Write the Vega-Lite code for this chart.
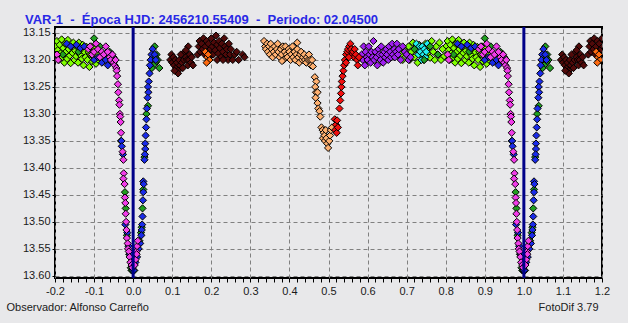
{
"$schema": "https://vega.github.io/schema/vega-lite/v6.json",
"autosize": "none",
"width": 547, "height": 251,
"padding": {"left": 55, "top": 27, "right": 26, "bottom": 45},
"background": "#E8E8EA",
"config": {"view": {"stroke": "#000000", "strokeWidth": 2, "fill": "#E8E8EA"}, "font": "Liberation Sans"},
"title": {"text": "VAR-1 \u00a0-\u00a0 Época HJD: 2456210.55409 \u00a0-\u00a0 Periodo: 02.04500", "anchor": "start", "frame": "group", "dx": -30, "dy": 16, "offset": 5, "baseline": "alphabetic", "font": "Liberation Sans", "fontSize": 13, "fontWeight": "bold", "color": "#2828E6"},
"layer": [
{"data": {"values": [
{"x":-0.199,"y":13.175,"s":"L"},{"x":-0.197,"y":13.19,"s":"L"},{"x":-0.195,"y":13.165,"s":"L"},{"x":-0.193,"y":13.182,"s":"L"},{"x":-0.19,"y":13.2,"s":"L"},{"x":-0.188,"y":13.172,"s":"L"},{"x":-0.186,"y":13.188,"s":"L"},{"x":-0.183,"y":13.162,"s":"L"},{"x":-0.181,"y":13.195,"s":"L"},{"x":-0.179,"y":13.178,"s":"L"},{"x":-0.176,"y":13.205,"s":"L"},{"x":-0.174,"y":13.17,"s":"L"},{"x":-0.172,"y":13.185,"s":"L"},{"x":-0.169,"y":13.198,"s":"L"},{"x":-0.167,"y":13.163,"s":"L"},{"x":-0.165,"y":13.18,"s":"L"},{"x":-0.162,"y":13.192,"s":"L"},{"x":-0.16,"y":13.206,"s":"L"},{"x":-0.158,"y":13.174,"s":"L"},{"x":-0.155,"y":13.187,"s":"L"},{"x":-0.153,"y":13.168,"s":"L"},{"x":-0.15,"y":13.2,"s":"L"},{"x":-0.148,"y":13.183,"s":"L"},{"x":-0.146,"y":13.193,"s":"L"},{"x":-0.143,"y":13.176,"s":"L"},{"x":-0.141,"y":13.205,"s":"L"},{"x":-0.139,"y":13.168,"s":"L"},{"x":-0.136,"y":13.19,"s":"L"},{"x":-0.134,"y":13.182,"s":"L"},{"x":-0.131,"y":13.198,"s":"L"},{"x":-0.129,"y":13.172,"s":"L"},{"x":-0.127,"y":13.21,"s":"L"},{"x":-0.124,"y":13.186,"s":"L"},{"x":-0.122,"y":13.195,"s":"L"},{"x":-0.119,"y":13.176,"s":"L"},{"x":-0.117,"y":13.2,"s":"L"},{"x":-0.114,"y":13.185,"s":"L"},{"x":-0.112,"y":13.213,"s":"L"},{"x":-0.109,"y":13.19,"s":"L"},{"x":-0.107,"y":13.175,"s":"L"},{"x":-0.104,"y":13.203,"s":"L"},{"x":-0.101,"y":13.195,"s":"L"},{"x":-0.098,"y":13.18,"s":"L"},{"x":-0.095,"y":13.207,"s":"L"},{"x":-0.092,"y":13.19,"s":"L"},{"x":-0.089,"y":13.2,"s":"L"},
{"x":0.801,"y":13.175,"s":"L"},{"x":0.803,"y":13.19,"s":"L"},{"x":0.805,"y":13.165,"s":"L"},{"x":0.807,"y":13.182,"s":"L"},{"x":0.81,"y":13.2,"s":"L"},{"x":0.812,"y":13.172,"s":"L"},{"x":0.814,"y":13.188,"s":"L"},{"x":0.817,"y":13.162,"s":"L"},{"x":0.819,"y":13.195,"s":"L"},{"x":0.821,"y":13.178,"s":"L"},{"x":0.824,"y":13.205,"s":"L"},{"x":0.826,"y":13.17,"s":"L"},{"x":0.828,"y":13.185,"s":"L"},{"x":0.831,"y":13.198,"s":"L"},{"x":0.833,"y":13.163,"s":"L"},{"x":0.835,"y":13.18,"s":"L"},{"x":0.838,"y":13.192,"s":"L"},{"x":0.84,"y":13.206,"s":"L"},{"x":0.842,"y":13.174,"s":"L"},{"x":0.845,"y":13.187,"s":"L"},{"x":0.847,"y":13.168,"s":"L"},{"x":0.85,"y":13.2,"s":"L"},{"x":0.852,"y":13.183,"s":"L"},{"x":0.854,"y":13.193,"s":"L"},{"x":0.857,"y":13.176,"s":"L"},{"x":0.859,"y":13.205,"s":"L"},{"x":0.861,"y":13.168,"s":"L"},{"x":0.864,"y":13.19,"s":"L"},{"x":0.866,"y":13.182,"s":"L"},{"x":0.869,"y":13.198,"s":"L"},{"x":0.871,"y":13.172,"s":"L"},{"x":0.873,"y":13.21,"s":"L"},{"x":0.876,"y":13.186,"s":"L"},{"x":0.878,"y":13.195,"s":"L"},{"x":0.881,"y":13.176,"s":"L"},{"x":0.883,"y":13.2,"s":"L"},{"x":0.886,"y":13.185,"s":"L"},{"x":0.888,"y":13.213,"s":"L"},{"x":0.891,"y":13.19,"s":"L"},{"x":0.893,"y":13.175,"s":"L"},{"x":0.896,"y":13.203,"s":"L"},{"x":0.899,"y":13.195,"s":"L"},{"x":0.902,"y":13.18,"s":"L"},{"x":0.905,"y":13.207,"s":"L"},{"x":0.908,"y":13.19,"s":"L"},{"x":0.911,"y":13.2,"s":"L"},
{"x":0.685,"y":13.19,"s":"L"},{"x":0.69,"y":13.2,"s":"L"},{"x":0.695,"y":13.182,"s":"L"},{"x":0.7,"y":13.19,"s":"L"},{"x":0.705,"y":13.175,"s":"L"},{"x":0.708,"y":13.2,"s":"L"},{"x":0.712,"y":13.185,"s":"L"},{"x":0.716,"y":13.168,"s":"L"},{"x":0.72,"y":13.195,"s":"L"},{"x":0.724,"y":13.18,"s":"L"},{"x":0.728,"y":13.205,"s":"L"},{"x":0.732,"y":13.172,"s":"L"},{"x":0.736,"y":13.19,"s":"L"},{"x":0.74,"y":13.183,"s":"L"},{"x":0.744,"y":13.2,"s":"L"},{"x":0.748,"y":13.17,"s":"L"},{"x":0.752,"y":13.188,"s":"L"},{"x":0.756,"y":13.178,"s":"L"},{"x":0.76,"y":13.196,"s":"L"},{"x":0.764,"y":13.165,"s":"L"},{"x":0.768,"y":13.185,"s":"L"},{"x":0.772,"y":13.2,"s":"L"},{"x":0.776,"y":13.175,"s":"L"},{"x":0.78,"y":13.19,"s":"L"},{"x":0.784,"y":13.168,"s":"L"},{"x":0.788,"y":13.2,"s":"L"},{"x":0.792,"y":13.18,"s":"L"},{"x":0.796,"y":13.193,"s":"L"},
{"x":0.725,"y":13.17,"s":"C"},{"x":0.728,"y":13.18,"s":"C"},{"x":0.73,"y":13.19,"s":"C"},{"x":0.733,"y":13.175,"s":"C"},{"x":0.735,"y":13.185,"s":"C"},{"x":0.738,"y":13.2,"s":"C"},{"x":0.74,"y":13.175,"s":"C"},{"x":0.743,"y":13.19,"s":"C"},{"x":0.745,"y":13.18,"s":"C"},{"x":0.748,"y":13.195,"s":"C"},{"x":0.75,"y":13.185,"s":"C"},{"x":0.753,"y":13.17,"s":"C"},
{"x":0.585,"y":13.19,"s":"V"},{"x":0.588,"y":13.2,"s":"V"},{"x":0.59,"y":13.175,"s":"V"},{"x":0.593,"y":13.21,"s":"V"},{"x":0.595,"y":13.185,"s":"V"},{"x":0.598,"y":13.195,"s":"V"},{"x":0.6,"y":13.2,"s":"V"},{"x":0.603,"y":13.175,"s":"V"},{"x":0.605,"y":13.19,"s":"V"},{"x":0.608,"y":13.205,"s":"V"},{"x":0.61,"y":13.185,"s":"V"},{"x":0.613,"y":13.195,"s":"V"},{"x":0.615,"y":13.165,"s":"V"},{"x":0.617,"y":13.2,"s":"V"},{"x":0.62,"y":13.185,"s":"V"},{"x":0.623,"y":13.195,"s":"V"},{"x":0.625,"y":13.21,"s":"V"},{"x":0.628,"y":13.18,"s":"V"},{"x":0.63,"y":13.19,"s":"V"},{"x":0.633,"y":13.2,"s":"V"},{"x":0.635,"y":13.175,"s":"V"},{"x":0.638,"y":13.19,"s":"V"},{"x":0.64,"y":13.205,"s":"V"},{"x":0.643,"y":13.185,"s":"V"},{"x":0.645,"y":13.195,"s":"V"},{"x":0.648,"y":13.18,"s":"V"},{"x":0.65,"y":13.19,"s":"V"},{"x":0.653,"y":13.2,"s":"V"},{"x":0.655,"y":13.175,"s":"V"},{"x":0.658,"y":13.185,"s":"V"},{"x":0.66,"y":13.195,"s":"V"},{"x":0.663,"y":13.17,"s":"V"},{"x":0.665,"y":13.19,"s":"V"},{"x":0.668,"y":13.18,"s":"V"},{"x":0.67,"y":13.195,"s":"V"},{"x":0.673,"y":13.185,"s":"V"},{"x":0.675,"y":13.17,"s":"V"},{"x":0.678,"y":13.19,"s":"V"},{"x":0.68,"y":13.18,"s":"V"},{"x":0.685,"y":13.2,"s":"V"},{"x":0.69,"y":13.175,"s":"V"},{"x":0.695,"y":13.185,"s":"V"},{"x":0.7,"y":13.19,"s":"V"},{"x":0.705,"y":13.2,"s":"V"},{"x":0.71,"y":13.195,"s":"V"},
{"x":0.095,"y":13.2,"s":"D"},{"x":0.098,"y":13.19,"s":"D"},{"x":0.1,"y":13.205,"s":"D"},{"x":0.103,"y":13.195,"s":"D"},{"x":0.105,"y":13.21,"s":"D"},{"x":0.108,"y":13.2,"s":"D"},{"x":0.11,"y":13.215,"s":"D"},{"x":0.112,"y":13.205,"s":"D"},{"x":0.115,"y":13.22,"s":"D"},{"x":0.118,"y":13.2,"s":"D"},{"x":0.12,"y":13.21,"s":"D"},{"x":0.122,"y":13.19,"s":"D"},{"x":0.125,"y":13.205,"s":"D"},{"x":0.127,"y":13.215,"s":"D"},{"x":0.13,"y":13.2,"s":"D"},{"x":0.133,"y":13.185,"s":"D"},{"x":0.135,"y":13.195,"s":"D"},{"x":0.138,"y":13.2,"s":"D"},{"x":0.14,"y":13.21,"s":"D"},{"x":0.143,"y":13.2,"s":"D"},{"x":0.145,"y":13.19,"s":"D"},{"x":0.148,"y":13.205,"s":"D"},{"x":0.15,"y":13.195,"s":"D"},{"x":0.153,"y":13.21,"s":"D"},{"x":0.115,"y":13.225,"s":"D"},{"x":0.106,"y":13.22,"s":"D"},{"x":0.141,"y":13.175,"s":"D"},{"x":0.135,"y":13.182,"s":"D"},
{"x":1.095,"y":13.2,"s":"D"},{"x":1.098,"y":13.19,"s":"D"},{"x":1.1,"y":13.205,"s":"D"},{"x":1.103,"y":13.195,"s":"D"},{"x":1.105,"y":13.21,"s":"D"},{"x":1.108,"y":13.2,"s":"D"},{"x":1.11,"y":13.215,"s":"D"},{"x":1.112,"y":13.205,"s":"D"},{"x":1.115,"y":13.22,"s":"D"},{"x":1.118,"y":13.2,"s":"D"},{"x":1.12,"y":13.21,"s":"D"},{"x":1.122,"y":13.19,"s":"D"},{"x":1.125,"y":13.205,"s":"D"},{"x":1.127,"y":13.215,"s":"D"},{"x":1.13,"y":13.2,"s":"D"},{"x":1.133,"y":13.185,"s":"D"},{"x":1.135,"y":13.195,"s":"D"},{"x":1.138,"y":13.2,"s":"D"},{"x":1.14,"y":13.21,"s":"D"},{"x":1.143,"y":13.2,"s":"D"},{"x":1.145,"y":13.19,"s":"D"},{"x":1.148,"y":13.205,"s":"D"},{"x":1.15,"y":13.195,"s":"D"},{"x":1.153,"y":13.21,"s":"D"},{"x":1.115,"y":13.225,"s":"D"},{"x":1.106,"y":13.22,"s":"D"},{"x":1.141,"y":13.175,"s":"D"},{"x":1.135,"y":13.182,"s":"D"},
{"x":0.165,"y":13.19,"s":"D"},{"x":0.168,"y":13.175,"s":"D"},{"x":0.17,"y":13.165,"s":"D"},{"x":0.172,"y":13.185,"s":"D"},{"x":0.175,"y":13.17,"s":"D"},{"x":0.178,"y":13.18,"s":"D"},{"x":0.18,"y":13.16,"s":"D"},{"x":0.183,"y":13.19,"s":"D"},{"x":0.185,"y":13.175,"s":"D"},{"x":0.188,"y":13.165,"s":"D"},{"x":0.19,"y":13.185,"s":"D"},{"x":0.193,"y":13.17,"s":"D"},{"x":0.195,"y":13.195,"s":"D"},{"x":0.198,"y":13.18,"s":"D"},{"x":0.2,"y":13.16,"s":"D"},{"x":0.203,"y":13.175,"s":"D"},{"x":0.205,"y":13.19,"s":"D"},{"x":0.207,"y":13.168,"s":"D"},{"x":0.21,"y":13.182,"s":"D"},{"x":0.212,"y":13.155,"s":"D"},{"x":0.215,"y":13.172,"s":"D"},{"x":0.218,"y":13.188,"s":"D"},{"x":0.22,"y":13.165,"s":"D"},{"x":0.222,"y":13.178,"s":"D"},{"x":0.225,"y":13.195,"s":"D"},{"x":0.227,"y":13.17,"s":"D"},{"x":0.23,"y":13.185,"s":"D"},{"x":0.233,"y":13.16,"s":"D"},{"x":0.235,"y":13.175,"s":"D"},{"x":0.238,"y":13.19,"s":"D"},{"x":0.24,"y":13.18,"s":"D"},{"x":0.243,"y":13.2,"s":"D"},{"x":0.245,"y":13.17,"s":"D"},{"x":0.248,"y":13.19,"s":"D"},{"x":0.25,"y":13.18,"s":"D"},{"x":0.255,"y":13.2,"s":"D"},{"x":0.26,"y":13.19,"s":"D"},{"x":0.265,"y":13.185,"s":"D"},{"x":0.27,"y":13.2,"s":"D"},{"x":0.28,"y":13.19,"s":"D"},{"x":0.285,"y":13.195,"s":"D"},{"x":0.195,"y":13.2,"s":"D"},{"x":0.215,"y":13.2,"s":"D"},{"x":0.23,"y":13.2,"s":"D"},
{"x":1.165,"y":13.19,"s":"D"},{"x":1.168,"y":13.175,"s":"D"},{"x":1.17,"y":13.165,"s":"D"},{"x":1.172,"y":13.185,"s":"D"},{"x":1.175,"y":13.17,"s":"D"},{"x":1.178,"y":13.18,"s":"D"},{"x":1.18,"y":13.16,"s":"D"},{"x":1.183,"y":13.19,"s":"D"},{"x":1.185,"y":13.175,"s":"D"},{"x":1.188,"y":13.165,"s":"D"},{"x":1.19,"y":13.185,"s":"D"},{"x":1.193,"y":13.17,"s":"D"},{"x":1.195,"y":13.195,"s":"D"},{"x":1.198,"y":13.18,"s":"D"},{"x":1.2,"y":13.16,"s":"D"},{"x":1.203,"y":13.175,"s":"D"},{"x":1.195,"y":13.2,"s":"D"},
{"x":0.185,"y":13.185,"s":"O"},{"x":0.19,"y":13.195,"s":"O"},{"x":0.195,"y":13.2,"s":"O"},{"x":0.188,"y":13.205,"s":"O"},{"x":0.192,"y":13.19,"s":"O"},
{"x":1.185,"y":13.185,"s":"O"},{"x":1.19,"y":13.195,"s":"O"},{"x":1.195,"y":13.2,"s":"O"},{"x":1.188,"y":13.205,"s":"O"},{"x":1.192,"y":13.19,"s":"O"},
{"x":0.335,"y":13.165,"s":"P"},{"x":0.338,"y":13.175,"s":"P"},{"x":0.34,"y":13.18,"s":"P"},{"x":0.343,"y":13.17,"s":"P"},{"x":0.345,"y":13.185,"s":"P"},{"x":0.348,"y":13.175,"s":"P"},{"x":0.35,"y":13.19,"s":"P"},{"x":0.352,"y":13.17,"s":"P"},{"x":0.355,"y":13.18,"s":"P"},{"x":0.357,"y":13.195,"s":"P"},{"x":0.36,"y":13.185,"s":"P"},{"x":0.362,"y":13.175,"s":"P"},{"x":0.365,"y":13.19,"s":"P"},{"x":0.368,"y":13.18,"s":"P"},{"x":0.37,"y":13.17,"s":"P"},{"x":0.372,"y":13.185,"s":"P"},{"x":0.375,"y":13.195,"s":"P"},{"x":0.378,"y":13.18,"s":"P"},{"x":0.38,"y":13.19,"s":"P"},{"x":0.383,"y":13.175,"s":"P"},{"x":0.385,"y":13.2,"s":"P"},{"x":0.388,"y":13.185,"s":"P"},{"x":0.39,"y":13.175,"s":"P"},{"x":0.393,"y":13.19,"s":"P"},{"x":0.395,"y":13.195,"s":"P"},{"x":0.398,"y":13.18,"s":"P"},{"x":0.4,"y":13.185,"s":"P"},{"x":0.403,"y":13.2,"s":"P"},{"x":0.405,"y":13.19,"s":"P"},{"x":0.408,"y":13.175,"s":"P"},{"x":0.41,"y":13.195,"s":"P"},{"x":0.413,"y":13.185,"s":"P"},{"x":0.415,"y":13.2,"s":"P"},{"x":0.418,"y":13.19,"s":"P"},{"x":0.42,"y":13.18,"s":"P"},{"x":0.423,"y":13.195,"s":"P"},{"x":0.425,"y":13.205,"s":"P"},{"x":0.428,"y":13.19,"s":"P"},{"x":0.43,"y":13.185,"s":"P"},{"x":0.433,"y":13.2,"s":"P"},{"x":0.435,"y":13.195,"s":"P"},{"x":0.438,"y":13.19,"s":"P"},{"x":0.44,"y":13.2,"s":"P"},{"x":0.443,"y":13.205,"s":"P"},{"x":0.445,"y":13.195,"s":"P"},{"x":0.448,"y":13.2,"s":"P"},{"x":0.45,"y":13.19,"s":"P"},{"x":0.453,"y":13.2,"s":"P"},{"x":0.455,"y":13.21,"s":"P"},{"x":0.458,"y":13.2,"s":"P"},{"x":0.42,"y":13.168,"s":"P"},{"x":0.381,"y":13.202,"s":"P"},
{"x":0.46,"y":13.212,"s":"P"},{"x":0.465,"y":13.232,"s":"P"},{"x":0.469,"y":13.24,"s":"P"},{"x":0.466,"y":13.25,"s":"P"},{"x":0.468,"y":13.26,"s":"P"},{"x":0.472,"y":13.26,"s":"P"},{"x":0.467,"y":13.27,"s":"P"},{"x":0.472,"y":13.28,"s":"P"},{"x":0.474,"y":13.29,"s":"P"},{"x":0.477,"y":13.295,"s":"P"},{"x":0.479,"y":13.305,"s":"P"},{"x":0.482,"y":13.325,"s":"P"},{"x":0.485,"y":13.33,"s":"P"},{"x":0.488,"y":13.335,"s":"P"},{"x":0.486,"y":13.345,"s":"P"},{"x":0.49,"y":13.34,"s":"P"},{"x":0.493,"y":13.33,"s":"P"},{"x":0.491,"y":13.35,"s":"P"},{"x":0.495,"y":13.345,"s":"P"},{"x":0.497,"y":13.355,"s":"P"},{"x":0.499,"y":13.363,"s":"P"},{"x":0.502,"y":13.35,"s":"P"},{"x":0.504,"y":13.34,"s":"P"},{"x":0.506,"y":13.33,"s":"P"},{"x":0.509,"y":13.325,"s":"P"},
{"x":0.516,"y":13.31,"s":"R"},{"x":0.519,"y":13.32,"s":"R"},{"x":0.522,"y":13.312,"s":"R"},{"x":0.517,"y":13.33,"s":"R"},{"x":0.521,"y":13.335,"s":"R"},{"x":0.524,"y":13.325,"s":"R"},{"x":0.528,"y":13.29,"s":"R"},{"x":0.53,"y":13.275,"s":"R"},{"x":0.532,"y":13.262,"s":"R"},{"x":0.533,"y":13.25,"s":"R"},{"x":0.534,"y":13.24,"s":"R"},{"x":0.536,"y":13.23,"s":"R"},{"x":0.538,"y":13.22,"s":"R"},{"x":0.54,"y":13.21,"s":"R"},{"x":0.542,"y":13.2,"s":"R"},{"x":0.545,"y":13.19,"s":"R"},{"x":0.548,"y":13.185,"s":"R"},{"x":0.55,"y":13.18,"s":"R"},{"x":0.553,"y":13.175,"s":"R"},{"x":0.556,"y":13.17,"s":"R"},{"x":0.558,"y":13.18,"s":"R"},{"x":0.56,"y":13.19,"s":"R"},{"x":0.563,"y":13.185,"s":"R"},{"x":0.565,"y":13.195,"s":"R"},{"x":0.567,"y":13.18,"s":"R"},{"x":0.57,"y":13.19,"s":"R"},{"x":0.573,"y":13.2,"s":"R"},{"x":0.575,"y":13.21,"s":"R"},{"x":0.578,"y":13.195,"s":"R"},{"x":0.552,"y":13.195,"s":"R"},{"x":0.545,"y":13.205,"s":"R"},
{"x":-0.18,"y":13.19,"s":"G"},{"x":-0.14,"y":13.185,"s":"G"},{"x":-0.1,"y":13.16,"s":"G"},{"x":-0.085,"y":13.175,"s":"G"},{"x":-0.07,"y":13.19,"s":"G"},{"x":-0.06,"y":13.185,"s":"G"},{"x":-0.05,"y":13.195,"s":"G"},
{"x":0.82,"y":13.19,"s":"G"},{"x":0.86,"y":13.185,"s":"G"},{"x":0.9,"y":13.16,"s":"G"},{"x":0.915,"y":13.175,"s":"G"},{"x":0.93,"y":13.19,"s":"G"},{"x":0.94,"y":13.185,"s":"G"},{"x":0.95,"y":13.195,"s":"G"},{"x":0.72,"y":13.18,"s":"G"},{"x":0.76,"y":13.175,"s":"G"},{"x":0.78,"y":13.19,"s":"G"},{"x":0.745,"y":13.2,"s":"G"},
{"x":-0.031,"y":13.35,"s":"G"},{"x":-0.021,"y":13.445,"s":"G"},{"x":-0.019,"y":13.475,"s":"G"},{"x":-0.016,"y":13.525,"s":"G"},{"x":-0.01,"y":13.56,"s":"G"},{"x":-0.006,"y":13.585,"s":"G"},{"x":-0.004,"y":13.59,"s":"G"},
{"x":0.969,"y":13.35,"s":"G"},{"x":0.979,"y":13.445,"s":"G"},{"x":0.981,"y":13.475,"s":"G"},{"x":0.984,"y":13.525,"s":"G"},{"x":0.99,"y":13.56,"s":"G"},{"x":0.994,"y":13.585,"s":"G"},{"x":0.996,"y":13.59,"s":"G"},
{"x":0.055,"y":13.175,"s":"G"},{"x":0.06,"y":13.19,"s":"G"},{"x":0.058,"y":13.205,"s":"G"},{"x":0.063,"y":13.2,"s":"G"},{"x":0.067,"y":13.215,"s":"G"},{"x":0.05,"y":13.2,"s":"G"},{"x":0.052,"y":13.21,"s":"G"},{"x":0.048,"y":13.215,"s":"G"},{"x":0.056,"y":13.195,"s":"G"},{"x":0.038,"y":13.285,"s":"G"},{"x":0.034,"y":13.3,"s":"G"},{"x":0.029,"y":13.38,"s":"G"},{"x":0.026,"y":13.44,"s":"G"},{"x":0.024,"y":13.475,"s":"G"},{"x":0.022,"y":13.51,"s":"G"},{"x":0.02,"y":13.52,"s":"G"},{"x":0.016,"y":13.535,"s":"G"},{"x":0.003,"y":13.59,"s":"G"},{"x":-0.002,"y":13.59,"s":"G"},
{"x":1.055,"y":13.175,"s":"G"},{"x":1.06,"y":13.19,"s":"G"},{"x":1.058,"y":13.205,"s":"G"},{"x":1.063,"y":13.2,"s":"G"},{"x":1.067,"y":13.215,"s":"G"},{"x":1.05,"y":13.2,"s":"G"},{"x":1.052,"y":13.21,"s":"G"},{"x":1.048,"y":13.215,"s":"G"},{"x":1.056,"y":13.195,"s":"G"},{"x":1.038,"y":13.285,"s":"G"},{"x":1.034,"y":13.3,"s":"G"},{"x":1.029,"y":13.38,"s":"G"},{"x":1.026,"y":13.44,"s":"G"},{"x":1.024,"y":13.475,"s":"G"},{"x":1.022,"y":13.51,"s":"G"},{"x":1.02,"y":13.52,"s":"G"},{"x":1.016,"y":13.535,"s":"G"},{"x":1.003,"y":13.59,"s":"G"},{"x":0.998,"y":13.59,"s":"G"},
{"x":-0.17,"y":13.17,"s":"B"},{"x":-0.16,"y":13.175,"s":"B"},{"x":-0.145,"y":13.172,"s":"B"},{"x":-0.135,"y":13.178,"s":"B"},{"x":-0.125,"y":13.175,"s":"B"},{"x":-0.1,"y":13.2,"s":"B"},{"x":-0.09,"y":13.195,"s":"B"},{"x":-0.08,"y":13.205,"s":"B"},{"x":-0.07,"y":13.2,"s":"B"},{"x":-0.065,"y":13.21,"s":"B"},{"x":-0.055,"y":13.19,"s":"B"},{"x":-0.05,"y":13.2,"s":"B"},
{"x":0.83,"y":13.17,"s":"B"},{"x":0.84,"y":13.175,"s":"B"},{"x":0.855,"y":13.172,"s":"B"},{"x":0.865,"y":13.178,"s":"B"},{"x":0.875,"y":13.175,"s":"B"},{"x":0.9,"y":13.2,"s":"B"},{"x":0.91,"y":13.195,"s":"B"},{"x":0.92,"y":13.205,"s":"B"},{"x":0.93,"y":13.2,"s":"B"},{"x":0.935,"y":13.21,"s":"B"},{"x":0.945,"y":13.19,"s":"B"},{"x":0.95,"y":13.2,"s":"B"},
{"x":-0.03,"y":13.35,"s":"B"},{"x":-0.029,"y":13.36,"s":"B"},{"x":-0.026,"y":13.375,"s":"B"},{"x":-0.02,"y":13.505,"s":"B"},{"x":-0.015,"y":13.52,"s":"B"},{"x":-0.012,"y":13.545,"s":"B"},{"x":-0.008,"y":13.56,"s":"B"},{"x":-0.003,"y":13.575,"s":"B"},
{"x":0.97,"y":13.35,"s":"B"},{"x":0.971,"y":13.36,"s":"B"},{"x":0.974,"y":13.375,"s":"B"},{"x":0.98,"y":13.505,"s":"B"},{"x":0.985,"y":13.52,"s":"B"},{"x":0.988,"y":13.545,"s":"B"},{"x":0.992,"y":13.56,"s":"B"},{"x":0.997,"y":13.575,"s":"B"},
{"x":0.05,"y":13.18,"s":"B"},{"x":0.047,"y":13.19,"s":"B"},{"x":0.045,"y":13.2,"s":"B"},{"x":0.043,"y":13.21,"s":"B"},{"x":0.042,"y":13.225,"s":"B"},{"x":0.04,"y":13.24,"s":"B"},{"x":0.038,"y":13.25,"s":"B"},{"x":0.039,"y":13.26,"s":"B"},{"x":0.037,"y":13.27,"s":"B"},{"x":0.035,"y":13.29,"s":"B"},{"x":0.034,"y":13.31,"s":"B"},{"x":0.033,"y":13.325,"s":"B"},{"x":0.032,"y":13.34,"s":"B"},{"x":0.031,"y":13.355,"s":"B"},{"x":0.031,"y":13.365,"s":"B"},{"x":0.03,"y":13.375,"s":"B"},{"x":0.029,"y":13.385,"s":"B"},{"x":0.026,"y":13.425,"s":"B"},{"x":0.027,"y":13.43,"s":"B"},{"x":0.026,"y":13.445,"s":"B"},{"x":0.025,"y":13.46,"s":"B"},{"x":0.024,"y":13.49,"s":"B"},{"x":0.023,"y":13.505,"s":"B"},{"x":0.022,"y":13.515,"s":"B"},{"x":0.021,"y":13.525,"s":"B"},{"x":0.018,"y":13.54,"s":"B"},{"x":0.014,"y":13.55,"s":"B"},{"x":0.01,"y":13.565,"s":"B"},{"x":0.006,"y":13.575,"s":"B"},{"x":0.003,"y":13.58,"s":"B"},{"x":0.001,"y":13.59,"s":"B"},{"x":0.055,"y":13.19,"s":"B"},{"x":0.058,"y":13.2,"s":"B"},
{"x":1.05,"y":13.18,"s":"B"},{"x":1.047,"y":13.19,"s":"B"},{"x":1.045,"y":13.2,"s":"B"},{"x":1.043,"y":13.21,"s":"B"},{"x":1.042,"y":13.225,"s":"B"},{"x":1.04,"y":13.24,"s":"B"},{"x":1.038,"y":13.25,"s":"B"},{"x":1.039,"y":13.26,"s":"B"},{"x":1.037,"y":13.27,"s":"B"},{"x":1.035,"y":13.29,"s":"B"},{"x":1.034,"y":13.31,"s":"B"},{"x":1.033,"y":13.325,"s":"B"},{"x":1.032,"y":13.34,"s":"B"},{"x":1.031,"y":13.355,"s":"B"},{"x":1.031,"y":13.365,"s":"B"},{"x":1.03,"y":13.375,"s":"B"},{"x":1.029,"y":13.385,"s":"B"},{"x":1.026,"y":13.425,"s":"B"},{"x":1.027,"y":13.43,"s":"B"},{"x":1.026,"y":13.445,"s":"B"},{"x":1.025,"y":13.46,"s":"B"},{"x":1.024,"y":13.49,"s":"B"},{"x":1.023,"y":13.505,"s":"B"},{"x":1.022,"y":13.515,"s":"B"},{"x":1.021,"y":13.525,"s":"B"},{"x":1.018,"y":13.54,"s":"B"},{"x":1.014,"y":13.55,"s":"B"},{"x":1.01,"y":13.565,"s":"B"},{"x":1.006,"y":13.575,"s":"B"},{"x":1.003,"y":13.58,"s":"B"},{"x":1.001,"y":13.59,"s":"B"},{"x":1.055,"y":13.19,"s":"B"},{"x":1.058,"y":13.2,"s":"B"},
{"x":-0.195,"y":13.19,"s":"M"},{"x":-0.192,"y":13.2,"s":"M"},{"x":-0.115,"y":13.18,"s":"M"},{"x":-0.11,"y":13.175,"s":"M"},{"x":-0.105,"y":13.19,"s":"M"},{"x":-0.1,"y":13.185,"s":"M"},{"x":-0.095,"y":13.17,"s":"M"},{"x":-0.09,"y":13.18,"s":"M"},{"x":-0.085,"y":13.195,"s":"M"},{"x":-0.08,"y":13.185,"s":"M"},{"x":-0.075,"y":13.19,"s":"M"},{"x":-0.07,"y":13.175,"s":"M"},{"x":-0.065,"y":13.185,"s":"M"},{"x":-0.06,"y":13.195,"s":"M"},{"x":-0.057,"y":13.2,"s":"M"},{"x":-0.053,"y":13.19,"s":"M"},{"x":-0.05,"y":13.205,"s":"M"},{"x":-0.047,"y":13.21,"s":"M"},{"x":-0.045,"y":13.2,"s":"M"},{"x":-0.043,"y":13.215,"s":"M"},{"x":-0.042,"y":13.22,"s":"M"},
{"x":0.805,"y":13.19,"s":"M"},{"x":0.808,"y":13.2,"s":"M"},{"x":0.885,"y":13.18,"s":"M"},{"x":0.89,"y":13.175,"s":"M"},{"x":0.895,"y":13.19,"s":"M"},{"x":0.9,"y":13.185,"s":"M"},{"x":0.905,"y":13.17,"s":"M"},{"x":0.91,"y":13.18,"s":"M"},{"x":0.915,"y":13.195,"s":"M"},{"x":0.92,"y":13.185,"s":"M"},{"x":0.925,"y":13.19,"s":"M"},{"x":0.93,"y":13.175,"s":"M"},{"x":0.935,"y":13.185,"s":"M"},{"x":0.94,"y":13.195,"s":"M"},{"x":0.943,"y":13.2,"s":"M"},{"x":0.947,"y":13.19,"s":"M"},{"x":0.95,"y":13.205,"s":"M"},{"x":0.953,"y":13.21,"s":"M"},{"x":0.955,"y":13.2,"s":"M"},{"x":0.957,"y":13.215,"s":"M"},{"x":0.958,"y":13.22,"s":"M"},
{"x":-0.041,"y":13.23,"s":"M"},{"x":-0.039,"y":13.245,"s":"M"},{"x":-0.038,"y":13.26,"s":"M"},{"x":-0.036,"y":13.275,"s":"M"},{"x":-0.035,"y":13.283,"s":"M"},{"x":-0.034,"y":13.3,"s":"M"},{"x":-0.033,"y":13.305,"s":"M"},{"x":-0.032,"y":13.315,"s":"M"},{"x":-0.031,"y":13.335,"s":"M"},{"x":-0.027,"y":13.37,"s":"M"},{"x":-0.025,"y":13.385,"s":"M"},{"x":-0.024,"y":13.41,"s":"M"},{"x":-0.025,"y":13.42,"s":"M"},{"x":-0.022,"y":13.43,"s":"M"},{"x":-0.021,"y":13.455,"s":"M"},{"x":-0.02,"y":13.465,"s":"M"},{"x":-0.019,"y":13.485,"s":"M"},{"x":-0.018,"y":13.5,"s":"M"},{"x":-0.017,"y":13.515,"s":"M"},{"x":-0.016,"y":13.53,"s":"M"},{"x":-0.014,"y":13.54,"s":"M"},{"x":-0.013,"y":13.55,"s":"M"},{"x":-0.011,"y":13.555,"s":"M"},{"x":-0.009,"y":13.565,"s":"M"},{"x":-0.007,"y":13.575,"s":"M"},{"x":-0.004,"y":13.58,"s":"M"},{"x":-0.002,"y":13.585,"s":"M"},{"x":0.006,"y":13.57,"s":"M"},{"x":0.008,"y":13.555,"s":"M"},{"x":0.01,"y":13.545,"s":"M"},{"x":0.012,"y":13.535,"s":"M"},{"x":0.009,"y":13.56,"s":"M"},{"x":0.004,"y":13.58,"s":"M"},
{"x":0.959,"y":13.23,"s":"M"},{"x":0.961,"y":13.245,"s":"M"},{"x":0.962,"y":13.26,"s":"M"},{"x":0.964,"y":13.275,"s":"M"},{"x":0.965,"y":13.283,"s":"M"},{"x":0.966,"y":13.3,"s":"M"},{"x":0.967,"y":13.305,"s":"M"},{"x":0.968,"y":13.315,"s":"M"},{"x":0.969,"y":13.335,"s":"M"},{"x":0.973,"y":13.37,"s":"M"},{"x":0.975,"y":13.385,"s":"M"},{"x":0.976,"y":13.41,"s":"M"},{"x":0.975,"y":13.42,"s":"M"},{"x":0.978,"y":13.43,"s":"M"},{"x":0.979,"y":13.455,"s":"M"},{"x":0.98,"y":13.465,"s":"M"},{"x":0.981,"y":13.485,"s":"M"},{"x":0.982,"y":13.5,"s":"M"},{"x":0.983,"y":13.515,"s":"M"},{"x":0.984,"y":13.53,"s":"M"},{"x":0.986,"y":13.54,"s":"M"},{"x":0.987,"y":13.55,"s":"M"},{"x":0.989,"y":13.555,"s":"M"},{"x":0.991,"y":13.565,"s":"M"},{"x":0.993,"y":13.575,"s":"M"},{"x":0.996,"y":13.58,"s":"M"},{"x":0.998,"y":13.585,"s":"M"},{"x":1.006,"y":13.57,"s":"M"},{"x":1.008,"y":13.555,"s":"M"},{"x":1.01,"y":13.545,"s":"M"},{"x":1.012,"y":13.535,"s":"M"},{"x":1.009,"y":13.56,"s":"M"},{"x":1.004,"y":13.58,"s":"M"}
]},
"mark": {"type": "point", "shape": "diamond", "filled": true, "size": 52, "stroke": "#000000", "strokeWidth": 1, "opacity": 1, "clip": true},
"encoding": {
"x": {"field": "x", "type": "quantitative", "scale": {"domain": [-0.2, 1.2], "nice": false, "zero": false},
 "axis": {"title": "Observador: Alfonso Carreño", "titleX": -49, "titleY": 32, "titleAlign": "left", "titleBaseline": "alphabetic", "titleFont": "Liberation Sans", "titleFontSize": 11, "titleFontWeight": "normal", "titleColor": "#202020",
  "tickCount": 200,
  "values": [-0.2,-0.18,-0.16,-0.14,-0.12,-0.1,-0.08,-0.06,-0.04,-0.02,0,0.02,0.04,0.06,0.08,0.1,0.12,0.14,0.16,0.18,0.2,0.22,0.24,0.26,0.28,0.3,0.32,0.34,0.36,0.38,0.4,0.42,0.44,0.46,0.48,0.5,0.52,0.54,0.56,0.58,0.6,0.62,0.64,0.66,0.68,0.7,0.72,0.74,0.76,0.78,0.8,0.82,0.84,0.86,0.88,0.9,0.92,0.94,0.96,0.98,1,1.02,1.04,1.06,1.08,1.1,1.12,1.14,1.16,1.18,1.2],
  "labelExpr": "abs(datum.value*10 - round(datum.value*10)) < 0.001 ? replace(format(datum.value, '.1f'), '−', '-') : ''",
  "labelFont": "Liberation Sans", "labelFontSize": 11, "labelColor": "#1a1a1a", "labelPadding": 3, "labelFlush": false, "labelOverlap": false,
  "domain": false, "ticks": true, "tickSize": 4, "tickColor": "#000000", "tickWidth": 1,
  "grid": true, "gridColor": "#808080", "gridDash": [4, 3], "gridWidth": 1,
  "gridOpacity": {"condition": {"test": "abs(datum.value*10 - round(datum.value*10)) < 0.001", "value": 1}, "value": 0}}},
"y": {"field": "y", "type": "quantitative", "scale": {"domain": [13.139, 13.604], "reverse": true, "nice": false, "zero": false},
 "axis": {"title": "FotoDif 3.79", "titleAngle": 0, "titleX": 543, "titleY": 283, "titleAlign": "right", "titleBaseline": "alphabetic", "titleFont": "Liberation Sans", "titleFontSize": 11, "titleFontWeight": "normal", "titleColor": "#202020",
  "tickCount": 50,
  "values": [13.15,13.2,13.25,13.3,13.35,13.4,13.45,13.5,13.55,13.6], "format": ".2f",
  "labelFont": "Liberation Sans", "labelFontSize": 11, "labelColor": "#1a1a1a", "labelPadding": 2,
  "domain": false, "ticks": true, "tickSize": 3, "tickColor": "#000000",
  "grid": true, "gridColor": "#808080", "gridDash": [4, 3], "gridWidth": 1}},
"color": {"field": "s", "type": "nominal", "legend": null,
 "scale": {"domain": ["L","C","V","D","O","P","R","G","B","M"], "range": ["#80FF00","#20F0F0","#A020F0","#500A0A","#FF6A10","#FFB070","#F01010","#20A020","#1A2BE8","#F03CE8"]}}
}},
{"data": {"values": [{"x": 0}, {"x": 1}]},
 "mark": {"type": "rule", "color": "#000088", "strokeWidth": 3},
 "encoding": {"x": {"field": "x", "type": "quantitative"}}}
]
}
